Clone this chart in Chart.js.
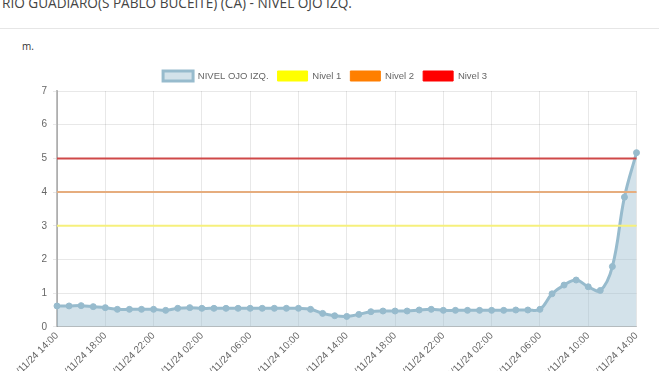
<!DOCTYPE html>
<html>
<head>
<meta charset="utf-8">
<script src="https://cdn.jsdelivr.net/npm/chart.js@4.4.1/dist/chart.umd.min.js"></script>
<style>
  body { margin: 0; background: #fff; font-family: "Open Sans", sans-serif; overflow: hidden; }
  #titulo { position: absolute; left: 2px; top: -7px; font-size: 13.6px; color: #444; white-space: nowrap; }
  #linea { position: absolute; left: 0; top: 28px; width: 659px; height: 1px; background: #e6e6e6; }
  #unidad { position: absolute; left: 22px; top: 39px; font-size: 10px; color: #333; }
  #caja { position: absolute; left: 2px; top: 62px; width: 646px; height: 326px; }
</style>
</head>
<body>
<div id="titulo">RIO GUADIARO(S PABLO BUCEITE) (CA) - NIVEL OJO IZQ.</div>
<div id="linea"></div>
<div id="unidad">m.</div>
<div id="caja"><canvas id="grafico-nivel"></canvas></div>
<script>
const horas = [
  '12/11/24 14:00', '12/11/24 15:00', '12/11/24 16:00', '12/11/24 17:00', '12/11/24 18:00',
  '12/11/24 19:00', '12/11/24 20:00', '12/11/24 21:00', '12/11/24 22:00', '12/11/24 23:00',
  '13/11/24 00:00', '13/11/24 01:00', '13/11/24 02:00', '13/11/24 03:00', '13/11/24 04:00',
  '13/11/24 05:00', '13/11/24 06:00', '13/11/24 07:00', '13/11/24 08:00', '13/11/24 09:00',
  '13/11/24 10:00', '13/11/24 11:00', '13/11/24 12:00', '13/11/24 13:00', '13/11/24 14:00',
  '13/11/24 15:00', '13/11/24 16:00', '13/11/24 17:00', '13/11/24 18:00', '13/11/24 19:00',
  '13/11/24 20:00', '13/11/24 21:00', '13/11/24 22:00', '13/11/24 23:00', '14/11/24 00:00',
  '14/11/24 01:00', '14/11/24 02:00', '14/11/24 03:00', '14/11/24 04:00', '14/11/24 05:00',
  '14/11/24 06:00', '14/11/24 07:00', '14/11/24 08:00', '14/11/24 09:00', '14/11/24 10:00',
  '14/11/24 11:00', '14/11/24 12:00', '14/11/24 13:00', '14/11/24 14:00'
];

const nivelOjoIzq = [
  0.62, 0.62, 0.63, 0.60, 0.57, 0.52, 0.52, 0.52, 0.52, 0.49,
  0.55, 0.57, 0.55, 0.55, 0.55, 0.55, 0.55, 0.55, 0.55, 0.55,
  0.55, 0.52, 0.40, 0.33, 0.31, 0.37, 0.45, 0.47, 0.47, 0.47,
  0.50, 0.52, 0.49, 0.49, 0.49, 0.49, 0.49, 0.49, 0.50, 0.50,
  0.52, 0.98, 1.24, 1.39, 1.19, 1.08, 1.79, 3.85, 5.17
];

const umbrales = [3, 4, 5];
const nombresUmbral = ['Nivel 1', 'Nivel 2', 'Nivel 3'];
const coloresUmbral = ['#ffff00', '#ff7f00', '#ff0000'];
const lineasUmbral = ['#f6f07c', '#e6ad7e', '#cf4848'];

const yTicks = [0, 1, 2, 3, 4, 5, 6, 7];

const datasets = [{
  label: 'NIVEL OJO IZQ.',
  data: nivelOjoIzq,
  borderColor: 'rgba(151,187,205,1)',
  backgroundColor: 'rgba(151,187,205,0.42)',
  borderWidth: 3,
  pointRadius: 3,
  pointBackgroundColor: 'rgba(151,187,205,1)',
  pointBorderColor: 'rgba(151,187,205,1)',
  pointBorderWidth: 1,
  tension: 0.4,
  fill: 'origin',
  order: 3
}];

umbrales.forEach((v, i) => {
  datasets.push({
    label: nombresUmbral[i],
    data: [{ x: horas[0], y: v }, { x: horas[horas.length - 1], y: v }],
    borderColor: lineasUmbral[i],
    backgroundColor: coloresUmbral[i],
    borderWidth: 2,
    pointRadius: 0,
    fill: false,
    tension: 0,
    order: 2 - i
  });
});

const config = {
  type: 'line',
  data: { labels: horas, datasets: datasets },
  options: {
    responsive: true,
    maintainAspectRatio: false,
    animation: false,
    layout: { padding: 0 },
    plugins: {
      legend: {
        labels: {
          boxWidth: 30,
          boxHeight: 10,
          padding: 9,
          color: '#666',
          font: { family: 'Liberation Sans', size: 9.5 },
          generateLabels: function (chart) {
            return chart.data.datasets.map((ds, i) => ({
              text: ds.label,
              fillStyle: ds.backgroundColor,
              strokeStyle: i === 0 ? ds.borderColor : ds.backgroundColor,
              lineWidth: i === 0 ? 3 : 1,
              fontColor: '#666',
              datasetIndex: i,
              hidden: false
            }));
          }
        }
      },
      tooltip: { enabled: false }
    },
    scales: {
      x: {
        ticks: {
          autoSkip: false,
          minRotation: 45,
          maxRotation: 45,
          color: '#666',
          font: { family: 'Liberation Sans', size: 10 },
          callback: function (value, index) {
            return index % 4 === 0 ? horas[index] : '';
          }
        },
        grid: {
          color: function (ctx) { return ctx.index % 4 === 0 ? 'rgba(0,0,0,0.09)' : 'transparent'; },
          drawTicks: false
        },
        border: { color: 'rgba(0,0,0,0.2)', width: 1 }
      },
      y: {
        min: yTicks[0],
        max: yTicks[yTicks.length - 1],
        afterFit: function (scale) { scale.width = 55; },
        ticks: {
          stepSize: 1,
          color: '#666',
          padding: 6,
          font: { family: 'Liberation Sans', size: 10 }
        },
        grid: { color: 'rgba(0,0,0,0.09)', drawTicks: true, tickLength: 4 },
        border: { color: 'rgba(0,0,0,0.25)', width: 2 }
      }
    }
  }
};

const ctx = document.getElementById('grafico-nivel').getContext('2d');
new Chart(ctx, config);
</script>
</body>
</html>
